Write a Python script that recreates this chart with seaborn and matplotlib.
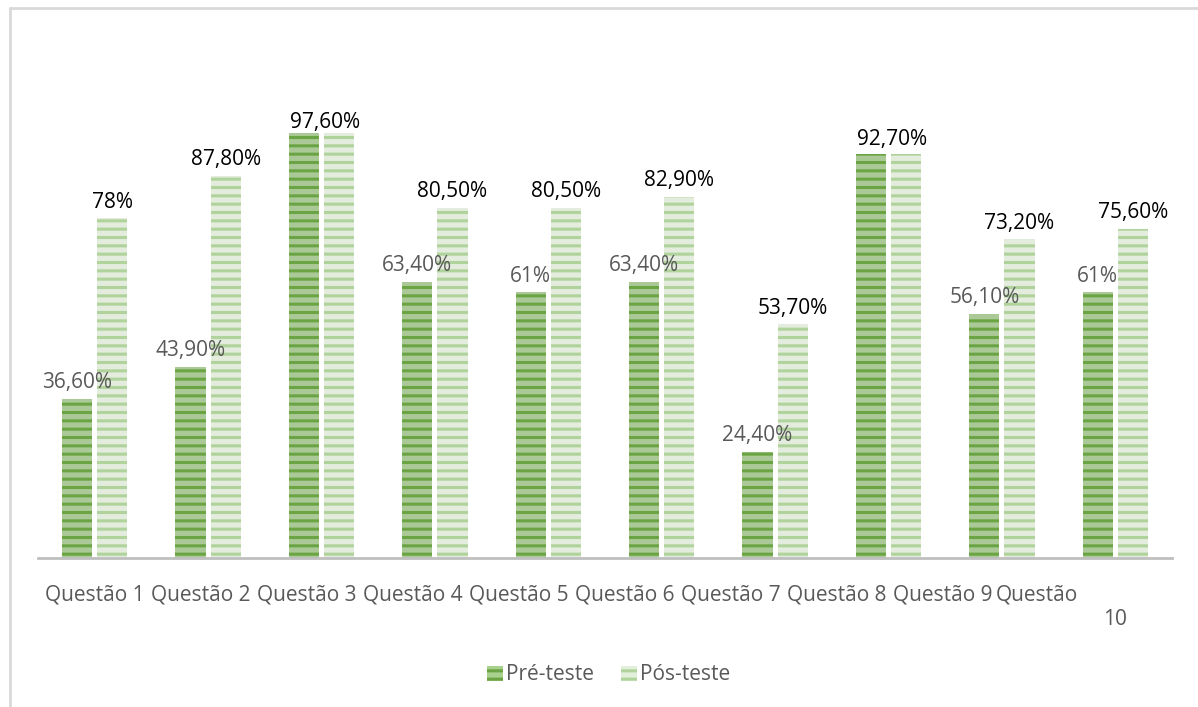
import pandas as pd
import matplotlib.pyplot as plt
import matplotlib.transforms as mtransforms
from matplotlib.lines import Line2D
from matplotlib.patches import Patch
import seaborn as sns

questoes = ["Questão 1", "Questão 2", "Questão 3", "Questão 4", "Questão 5",
            "Questão 6", "Questão 7", "Questão 8", "Questão 9", "Questão 10"]
pre_teste = [36.6, 43.9, 97.6, 63.4, 61.0, 63.4, 24.4, 92.7, 56.1, 61.0]
pos_teste = [78.0, 87.8, 97.6, 80.5, 80.5, 82.9, 53.7, 92.7, 73.2, 75.6]
series = ["Pré-teste", "Pós-teste"]


def fmt(v):
    if float(v).is_integer():
        return f"{int(v)}%"
    return f"{v:.2f}".replace(".", ",") + "%"


df = pd.DataFrame({
    "Questão": questoes * 2,
    "Valor": pre_teste + pos_teste,
    "Teste": [series[0]] * len(questoes) + [series[1]] * len(questoes),
})

sns.set_style("white")
plt.rcParams["font.family"] = ["Open Sans", "DejaVu Sans"]
plt.rcParams["hatch.linewidth"] = 2.2

face = {"Pré-teste": "#A9D18E", "Pós-teste": "#E2EFDA"}
stripe = {"Pré-teste": "#6AA443", "Pós-teste": "#AFD39A"}
grey = "#595959"

fig = plt.figure(figsize=(11.98, 7.07), dpi=100)
ax = fig.add_axes([38 / 1198, 1 - 558 / 707, (1172 - 38) / 1198, 435.4 / 707])

sns.barplot(data=df, x="Questão", y="Valor", hue="Teste", palette=face,
            width=0.62, gap=0.145, legend=False, ax=ax)

for cont, name in zip(ax.containers, series):
    for bar in cont:
        bar.set_hatch("--")
        bar.set_edgecolor(stripe[name])
        bar.set_linewidth(0)

# labels: where both values coincide only one label shows (near the group centre)
pre_labels = ["" if a == b else fmt(a) for a, b in zip(pre_teste, pos_teste)]
pos_labels = ["" if a == b else fmt(b) for a, b in zip(pre_teste, pos_teste)]
ax.bar_label(ax.containers[0], labels=pre_labels, padding=4, fontsize=15, color=grey)
ax.bar_label(ax.containers[1], labels=pos_labels, padding=4, fontsize=15, color="#000000")
for i, (a, b) in enumerate(zip(pre_teste, pos_teste)):
    if a == b:
        ax.annotate(fmt(b), (i + 0.03, b), xytext=(0, 0 if b > 95 else 3),
                    textcoords="offset points", ha="center", va="bottom",
                    fontsize=15, color="#000000")

ax.set_xlim(-0.5, 9.5)
ax.set_ylim(0, 100)
ax.set_xlabel("")
ax.set_ylabel("")
ax.set_yticks([])

# category labels run together as one wrapped line, like the original
first, second = questoes[-1].split()
label_pos = [i * 0.935 for i in range(len(questoes) - 1)] + [8.31]
ax.set_xticks(label_pos)
ax.set_xticklabels(questoes[:-1] + [first], fontsize=15, color=grey)
ax.tick_params(axis="x", which="major", length=0, pad=19)
trans = mtransforms.blended_transform_factory(ax.transData, ax.transAxes)
ax.text(len(questoes) - 1, -0.142, second, transform=trans, ha="center", va="center",
        fontsize=15, color=grey)

ax.set_xticks([i - 0.5 for i in range(len(questoes) + 1)], minor=True)
ax.tick_params(axis="x", which="minor", length=6, width=2, color="#BFBFBF")
for s in ["top", "right", "left"]:
    ax.spines[s].set_visible(False)
ax.spines["bottom"].set_color("#BFBFBF")
ax.spines["bottom"].set_linewidth(2)

handles = [Patch(facecolor=face[n], edgecolor=stripe[n], hatch="--", linewidth=0) for n in series]
fig.legend(handles, series, loc="center", bbox_to_anchor=(0.508, 1 - 675 / 707), ncol=2,
           frameon=False, fontsize=15, labelcolor=grey, handlelength=0.75,
           handleheight=0.75, handletextpad=0.15, columnspacing=1.3)

# chart area border (cut at right and bottom)
fig.add_artist(Line2D([10 / 1198, 1.0], [1 - 8 / 707] * 2, color="#D9D9D9", lw=2))
fig.add_artist(Line2D([10 / 1198] * 2, [0.0, 1 - 8 / 707], color="#D9D9D9", lw=2))

fig.savefig("out.png", dpi=100)
